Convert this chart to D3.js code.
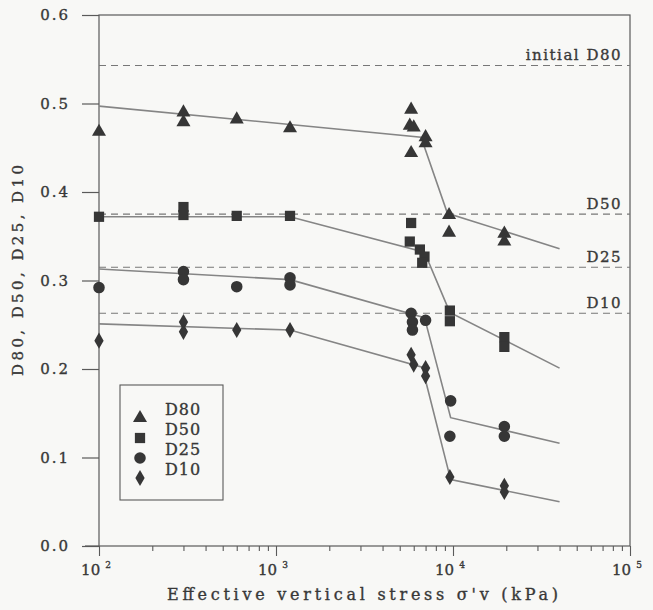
<!DOCTYPE html>
<html>
<head>
<meta charset="utf-8">
<script src="https://cdn.jsdelivr.net/npm/d3@7"></script>
<style>
  body { margin: 0; background: #f8f8f6; }
  svg { display: block; }
  text { font-family: "DejaVu Serif", serif; fill: #383838; stroke: #383838; stroke-width: 0.35px; }
</style>
</head>
<body>
<div id="chart"></div>
<script>
// stress values (kPa) and grain sizes
const d80Points = [[100,0.468],[300,0.490],[300,0.479],[600,0.482],[1200,0.472],
  [5800,0.493],[5700,0.475],[6000,0.473],[5800,0.444],[7000,0.462],[7000,0.455],
  [9500,0.374],[9500,0.354],[19500,0.353],[19500,0.344]];
const d50Points = [[100,0.372],[300,0.383],[300,0.374],[600,0.373],[1200,0.373],
  [5800,0.365],[5700,0.344],[6500,0.335],[6900,0.327],[6700,0.320],
  [9600,0.266],[9600,0.254],[19500,0.236],[19500,0.225]];
const d25Points = [[100,0.292],[300,0.310],[300,0.301],[600,0.293],[1200,0.303],[1200,0.295],
  [5800,0.263],[5900,0.253],[5900,0.244],[7000,0.255],
  [9700,0.164],[9600,0.124],[19500,0.135],[19500,0.124]];
const d10Points = [[100,0.232],[300,0.253],[300,0.242],[600,0.244],[1200,0.244],
  [5800,0.216],[6000,0.205],[7000,0.201],[7000,0.192],
  [9600,0.078],[19500,0.068],[19500,0.061]];

// fitted trend lines
const d80Fit = [[100,0.497],[6600,0.462],[9300,0.376],[40000,0.336]];
const d50Fit = [[100,0.372],[1200,0.372],[6900,0.332],[9600,0.264],[40000,0.201]];
const d25Fit = [[100,0.313],[1200,0.301],[6900,0.258],[9700,0.145],[40000,0.116]];
const d10Fit = [[100,0.251],[1200,0.244],[6700,0.202],[9700,0.075],[40000,0.050]];

// initial gradation (dashed)
const initialNames = ["initial D80", "D50", "D25", "D10"];
const initialValues = [0.543, 0.375, 0.315, 0.263];

const seriesNames = ["D80", "D50", "D25", "D10"];
const yTicks = [0.0, 0.1, 0.2, 0.3, 0.4, 0.5, 0.6];
const xMajor = [100, 1000, 10000, 100000];
const xExponents = ["2", "3", "4", "5"];

const margin = { top: 15, right: 23, bottom: 64, left: 99 },
      width = 653 - margin.left - margin.right,
      height = 610 - margin.top - margin.bottom;

const svg = d3.select("#chart")
  .append("svg")
  .attr("width", 653)
  .attr("height", 610)
  .append("g")
  .attr("transform", `translate(${margin.left},${margin.top})`);

const x = d3.scaleLog().domain([100, 100000]).range([0, width]);
const y = d3.scaleLinear().domain([0, 0.6]).range([height, 0]);

const axisColor = "#5a5a5a";
const markColor = "#363636";
const lineColor = "#858585";

// frame
svg.append("rect")
  .attr("width", width)
  .attr("height", height)
  .attr("fill", "none")
  .attr("stroke", axisColor)
  .attr("stroke-width", 1.2);

// y axis
const yAxis = svg.append("g")
  .call(d3.axisLeft(y).tickValues(yTicks).tickFormat(d3.format(".1f")).tickSize(17).tickPadding(12));
yAxis.select(".domain").remove();
yAxis.selectAll("line").attr("stroke", axisColor).attr("stroke-width", 1.2);
yAxis.selectAll("text")
  .style("font-family", "DejaVu Serif")
  .style("font-size", "15px")
  .style("letter-spacing", "2px")
  .attr("fill", "#383838");

// x axis with minor ticks
const xTickValues = [];
[100, 1000, 10000].forEach(base => {
  for (let k = 1; k <= 9; k++) xTickValues.push(base * k);
});
xTickValues.push(100000);

const xAxis = svg.append("g")
  .attr("transform", `translate(0,${height})`)
  .call(d3.axisBottom(x).tickValues(xTickValues).tickFormat("").tickSize(5));
xAxis.select(".domain").remove();
xAxis.selectAll("line")
  .attr("stroke", axisColor)
  .attr("stroke-width", 1.1)
  .attr("y2", d => xMajor.includes(d) ? 10 : 5);

// extend bottom axis left like the original
svg.append("line")
  .attr("x1", -14).attr("x2", 0)
  .attr("y1", height).attr("y2", height)
  .attr("stroke", axisColor).attr("stroke-width", 1.2);

// x tick labels 10^n
xMajor.forEach((v, i) => {
  const t = svg.append("text")
    .attr("x", x(v) - 3)
    .attr("y", height + 29)
    .attr("text-anchor", "middle")
    .style("font-size", "15px");
  t.append("tspan").text("10");
  t.append("tspan")
    .attr("dx", 5)
    .attr("dy", -7)
    .style("font-size", "9px")
    .text(xExponents[i]);
});

// axis titles
svg.append("text")
  .attr("x", 167 - margin.left)
  .attr("y", height + 54)
  .attr("textLength", 391)
  .attr("lengthAdjust", "spacing")
  .style("font-size", "16px")
  .text("Effective vertical stress σ'v (kPa)");

svg.append("text")
  .attr("transform", "rotate(-90)")
  .attr("x", -(376 - margin.top))
  .attr("y", 23 - margin.left)
  .attr("textLength", 211)
  .attr("lengthAdjust", "spacing")
  .style("font-size", "15px")
  .text("D80, D50, D25, D10");

// initial dashed lines + labels
initialValues.forEach((v, i) => {
  svg.append("line")
    .attr("x1", 0).attr("x2", width)
    .attr("y1", y(v)).attr("y2", y(v))
    .attr("stroke", "#777")
    .attr("stroke-width", 1.1)
    .attr("stroke-dasharray", "7,5");
  svg.append("text")
    .attr("x", width - 8)
    .attr("y", y(v) - 5.5)
    .attr("text-anchor", "end")
    .style("font-size", "15px")
    .style("letter-spacing", "1.5px")
    .text(initialNames[i]);
});

// fitted lines
const line = d3.line().x(d => x(d[0])).y(d => y(d[1]));
[d80Fit, d50Fit, d25Fit, d10Fit].forEach(fit => {
  svg.append("path")
    .datum(fit)
    .attr("d", line)
    .attr("fill", "none")
    .attr("stroke", lineColor)
    .attr("stroke-width", 1.6);
});

// markers
const symbols = [
  d3.symbol().type(d3.symbolTriangle).size(85),
  d3.symbol().type(d3.symbolSquare).size(105),
  d3.symbol().type(d3.symbolCircle).size(105),
  d3.symbol().type(d3.symbolDiamond).size(75)
];

[d80Points, d50Points, d25Points, d10Points].forEach((pts, i) => {
  svg.selectAll(".pt" + i)
    .data(pts)
    .enter()
    .append("path")
    .attr("class", "pt" + i)
    .attr("transform", d => `translate(${x(d[0])},${y(d[1])})`)
    .attr("d", symbols[i])
    .attr("fill", markColor);
});

// legend
const legend = svg.append("g")
  .attr("transform", `translate(${120 - margin.left},${385 - margin.top})`);

legend.append("rect")
  .attr("width", 103)
  .attr("height", 115)
  .attr("fill", "none")
  .attr("stroke", axisColor)
  .attr("stroke-width", 1.1);

seriesNames.forEach((name, i) => {
  legend.append("path")
    .attr("transform", `translate(20,${33 + i * 20})`)
    .attr("d", symbols[i])
    .attr("fill", markColor);
  legend.append("text")
    .attr("x", 45)
    .attr("y", 30 + i * 20)
    .style("font-size", "16px")
    .style("letter-spacing", "1px")
    .text(name);
});
</script>
</body>
</html>
